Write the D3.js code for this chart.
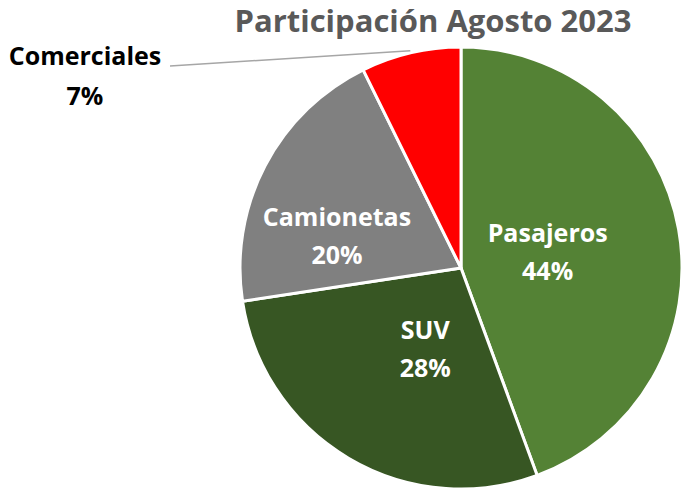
<!DOCTYPE html>
<html>
<head>
<meta charset="utf-8">
<script src="https://cdn.jsdelivr.net/npm/d3@7"></script>
<style>
  body { margin: 0; background: #fff; }
  text { font-family: "Open Sans", "Noto Sans", sans-serif; font-weight: bold; }
</style>
</head>
<body>
<script>
const svgWidth = 685
const svgHeight = 491

const categories = ["Pasajeros", "SUV", "Camionetas", "Comerciales"]
const shares = [44.4, 28.2, 20.1, 7.3]
const pctLabels = ["44%", "28%", "20%", "7%"]
const colors = ["#548235", "#375623", "#808080", "#FF0000"]

const cx = 461
const cy = 268
const radius = 221

// nudges for the inside labels, relative to centroid at r=88
const nudge = [[0, 0], [9, 6], [-46, 10]]

const svg = d3.select("body").append("svg")
    .attr("width", svgWidth)
    .attr("height", svgHeight)

const title = svg.append("text")
    .attr("x", 433)
    .attr("y", 32)
    .attr("text-anchor", "middle")
    .attr("fill", "#595959")
    .style("font-size", "31px")
    .text("Participación Agosto 2023")

const pieG = svg.append("g")
    .attr("transform", `translate(${cx}, ${cy})`)

const pie = d3.pie().sort(null).value(d => d)
const arcs = pie(shares)

const arc = d3.arc().innerRadius(0).outerRadius(radius)
const labelArc = d3.arc().innerRadius(88).outerRadius(88)

pieG.selectAll("path")
    .data(arcs)
    .enter()
    .append("path")
    .attr("d", arc)
    .attr("fill", (d, i) => colors[i])
    .attr("stroke", "#ffffff")
    .attr("stroke-width", 3)
    .attr("stroke-linejoin", "round")

// inside labels
arcs.slice(0, 3).forEach((d, i) => {
    const [x, y] = labelArc.centroid(d)
    const t = pieG.append("text")
        .attr("text-anchor", "middle")
        .attr("fill", "#ffffff")
        .style("font-size", "25px")
        .attr("transform", `translate(${x + nudge[i][0]}, ${y + nudge[i][1]})`)
    t.append("tspan").attr("x", 0).attr("y", -11).text(categories[i])
    t.append("tspan").attr("x", 0).attr("y", 27).text(pctLabels[i])
})

// Comerciales, outside with leader line
const last = arcs[3]
const edge = d3.arc().innerRadius(radius + 2).outerRadius(radius + 2).centroid(last)

svg.append("line")
    .attr("x1", 170)
    .attr("y1", 66)
    .attr("x2", cx + edge[0])
    .attr("y2", cy + edge[1])
    .attr("stroke", "#A6A6A6")
    .attr("stroke-width", 1.5)

const outLabel = svg.append("text")
    .attr("text-anchor", "middle")
    .attr("fill", "#000000")
    .style("font-size", "25px")
outLabel.append("tspan").attr("x", 85).attr("y", 65).text(categories[3])
outLabel.append("tspan").attr("x", 85).attr("y", 105).text(pctLabels[3])
</script>
</body>
</html>
